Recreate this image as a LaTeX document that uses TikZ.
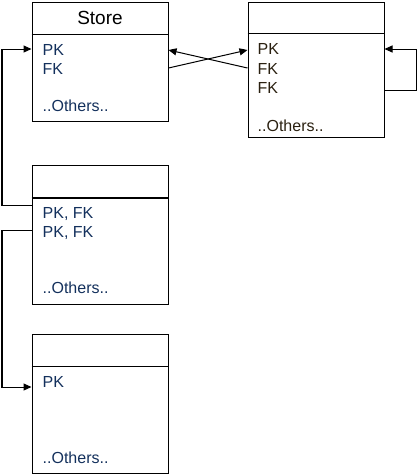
\documentclass[tikz,border=0pt]{standalone}
\usepackage{fontspec}
\setmainfont{Liberation Sans}
\usetikzlibrary{arrows.meta}
\definecolor{navy}{HTML}{13305C}
\definecolor{darkt}{HTML}{2A2010}
\begin{document}
\begin{tikzpicture}[x=1pt,y=-1pt,
  tbl/.style={draw=black,line width=1pt,inner sep=0pt,minimum width=136pt},
  rowtxt/.style={anchor=base west,inner sep=0pt,font=\fontsize{16}{16}\selectfont,text=navy},
  rowtxtb/.style={rowtxt,text=darkt},
  hdr/.style={anchor=base,inner sep=0pt,font=\fontsize{19}{19}\selectfont,text=black},
  link/.style={draw=black,line width=1pt,-{Triangle[length=8pt,width=7pt]}},
  plain/.style={draw=black,line width=1pt}]
\useasboundingbox (0,0) rectangle (417,475);
% tables
\node[tbl,minimum height=119pt] (b1) at (100,61.5) {};
\node[tbl,minimum height=135pt] (b2) at (316,69.5) {};
\node[tbl,minimum height=139pt] (b3) at (100,234.5) {};
\node[tbl,minimum height=139pt] (b4) at (100,403.5) {};
% header lines
\draw[plain] (b1.west |- 0,34) -- (b1.east |- 0,34);
\draw[plain] (b2.west |- 0,33) -- (b2.east |- 0,33);
\draw[draw=black,line width=2pt] (b3.west |- 0,198) -- (b3.east |- 0,198);
\draw[plain] (b4.west |- 0,366) -- (b4.east |- 0,366);
% texts
\node[hdr] (t1) at (100,24) {Store};
\node[rowtxt] (b1r1) at (42.5,55) {PK};
\node[rowtxt] (b1r2) at (42.5,74) {FK};
\node[rowtxt] (b1o) at (42.5,111) {..Others..};
\node[rowtxtb] (b2r1) at (257.5,54) {PK};
\node[rowtxtb] (b2r2) at (257.5,74) {FK};
\node[rowtxtb] (b2r3) at (257.5,93) {FK};
\node[rowtxtb] (b2o) at (257.5,131) {..Others..};
\node[rowtxt] (b3r1) at (42.5,218) {PK, FK};
\node[rowtxt] (b3r2) at (42.5,237) {PK, FK};
\node[rowtxt] (b3o) at (42.5,293) {..Others..};
\node[rowtxt] (b4r1) at (42.5,387) {PK};
\node[rowtxt] (b4o) at (42.5,463) {..Others..};
% ports
\coordinate (p1pkW) at (b1.west |- 0,49);
\coordinate (p1pkE) at (b1.east |- 0,50);
\coordinate (p1fkE) at (b1.east |- 0,68);
\coordinate (p2pkW) at (b2.west |- 0,50);
\coordinate (p2fkW) at (b2.west |- 0,68);
\coordinate (p2pkE) at (b2.east |- 0,49);
\coordinate (p2fkE) at (b2.east |- 0,90);
\coordinate (p3a) at (b3.west |- 0,205);
\coordinate (p3b) at (b3.west |- 0,230);
\coordinate (p4pk) at (b4.west |- 0,387);
\coordinate (railL) at (2,0);
\coordinate (railR) at (416,0);
% connectors
\draw[link] (p1fkE) -- (p2pkW);
\draw[link] (p2fkW) -- (p1pkE);
\draw[link] (p2fkE) -- (p2fkE -| railR) |- (p2pkE);
\draw[link] (p3a) -- (p3a -| railL) |- (p1pkW);
\draw[link] (p3b) -- (p3b -| railL) |- (p4pk);
\end{tikzpicture}
\end{document}
